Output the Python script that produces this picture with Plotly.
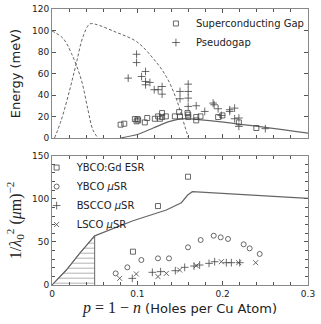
import numpy as np
import plotly.graph_objects as go

# -- top panel: energy gaps
gap_x = [0.0804, 0.0847, 0.0971, 0.0991, 0.1003, 0.101, 0.1088, 0.1116, 0.1205, 0.1244,
         0.1264, 0.129, 0.129, 0.1334, 0.144, 0.149, 0.15, 0.1588, 0.1596, 0.1596,
         0.169, 0.169, 0.174, 0.1947, 0.1997, 0.219, 0.2395]
gap_y = [12.4, 13.3, 17.6, 15.5, 17.6, 16.4, 14.5, 18.6, 17.9, 20.1,
         17.9, 23.2, 19.5, 20.1, 20.1, 24.1, 20.1, 23.2, 21.7, 19.5,
         16.4, 19.5, 20.1, 19.5, 21.0, 14.5, 9.3]

pg_x = [0.0893, 0.0991, 0.0991, 0.105, 0.1096, 0.1096, 0.1096, 0.1147, 0.1198, 0.1244,
        0.129, 0.129, 0.15, 0.15, 0.1596, 0.1596, 0.1596, 0.1596, 0.169, 0.179,
        0.1888, 0.19, 0.1947, 0.1985, 0.2083, 0.2083, 0.214, 0.214, 0.219, 0.219, 0.25]
pg_y = [55.7, 77.9, 70.2, 57.2, 61.9, 52.6, 49.5, 51.7, 44.9, 44.9,
        47.9, 40.8, 43.3, 36.5, 50.1, 43.3, 37.1, 29.4, 30.0, 24.7,
        32.5, 30.9, 27.2, 21.0, 26.3, 24.7, 27.8, 17.9, 18.6, 10.8, 8.7]

# dashed curves
af_x = [0, 0.0129, 0.0227, 0.0344, 0.0422, 0.048, 0.054]
af_y = [99.6, 92.7, 78.8, 54.0, 26.0, 7.4, 0.0]
tstar_x = [0.003, 0.0109, 0.0207, 0.0285, 0.0363, 0.0441, 0.05, 0.0754, 0.099, 0.1186,
           0.134, 0.146, 0.1557, 0.16]
tstar_y = [0.0, 16.7, 44.6, 69.5, 94.2, 106.0, 106.0, 98.3, 89.7, 74.0,
           57.0, 35.6, 10.8, 0.0]
# solid curve
sc_x = [0.0796, 0.099, 0.1186, 0.138, 0.1557, 0.3]
sc_y = [0.0, 3.0, 9.3, 15.5, 18.0, 4.6]

# -- bottom panel: superfluid density
esr_x = [0.0949, 0.1242, 0.1594]
esr_y = [38.7, 91.6, 125.6]
ybco_x = [0.0746, 0.0883, 0.1047, 0.1242, 0.1371, 0.1594, 0.1742, 0.1895, 0.1977,
          0.2063, 0.2246, 0.2316, 0.2434]
ybco_y = [13.5, 20.5, 29.0, 30.9, 30.9, 43.7, 52.2, 57.2, 55.3, 53.4, 47.2, 42.5, 36.0]
bscco_x = [0.0941, 0.1176, 0.1273, 0.1445, 0.1555, 0.1664, 0.173, 0.184, 0.1906,
           0.2043, 0.2102, 0.22]
bscco_y = [7.7, 14.7, 15.5, 16.6, 20.5, 22.0, 23.2, 25.1, 27.0, 25.9, 25.9, 25.9]
lsco_x = [0.0793, 0.0988, 0.1242, 0.134, 0.1496, 0.1691, 0.1984, 0.2188, 0.2387]
lsco_y = [7.7, 12.8, 9.7, 13.5, 17.4, 22.4, 27.0, 25.9, 25.9]

rho_x = [0, 0.0168, 0.0324, 0.0441, 0.05, 0.0949, 0.134, 0.1516, 0.159, 0.1645, 0.3]
rho_y = [0, 17.4, 36.7, 50.3, 57.0, 74.6, 87.0, 95.5, 104.4, 108.2, 100.5]

grey = '#666666'
dark = '#444444'
font = 'DejaVu Sans'

fig = go.Figure()

# top panel
dash_line = dict(color=grey, width=1, dash='3px,2px', shape='spline')
fig.add_trace(go.Scatter(x=af_x, y=af_y, mode='lines', line=dash_line,
                         showlegend=False, xaxis='x', yaxis='y'))
fig.add_trace(go.Scatter(x=tstar_x, y=tstar_y, mode='lines', line=dash_line,
                         showlegend=False, xaxis='x', yaxis='y'))
fig.add_trace(go.Scatter(x=sc_x, y=sc_y, mode='lines', line=dict(color=grey, width=1.2, shape='spline', smoothing=0.6),
                         showlegend=False, xaxis='x', yaxis='y'))
fig.add_trace(go.Scatter(x=gap_x, y=gap_y, mode='markers', name='Superconducting Gap',
                         marker=dict(symbol='square-open', size=5, color=dark, line=dict(width=0.8)),
                         xaxis='x', yaxis='y', legend='legend'))
fig.add_trace(go.Scatter(x=pg_x, y=pg_y, mode='markers', name='Pseudogap',
                         marker=dict(symbol='cross-thin-open', size=5.5, color=dark, line=dict(width=0.8, color=dark)),
                         xaxis='x', yaxis='y', legend='legend'))

# bottom panel: hatched region under the curve up to p = 0.05
rx = np.array(rho_x)
ry = np.array(rho_y)
keep = rx <= 0.05
hx = list(rx[keep]) + [rx[keep][-1]]
hy = list(ry[keep]) + [0]
fig.add_trace(go.Scatter(x=hx, y=hy, mode='lines', fill='toself',
                         fillpattern=dict(shape='-', size=5, solidity=0.2, fgcolor=grey, bgcolor='white'),
                         line=dict(color=grey, width=1), showlegend=False, xaxis='x2', yaxis='y2'))
fig.add_trace(go.Scatter(x=rho_x, y=rho_y, mode='lines', line=dict(color=grey, width=1.2),
                         showlegend=False, xaxis='x2', yaxis='y2'))
fig.add_trace(go.Scatter(x=esr_x, y=esr_y, mode='markers', name='YBCO:Gd ESR',
                         marker=dict(symbol='square-open', size=5, color=dark, line=dict(width=0.8)),
                         xaxis='x2', yaxis='y2', legend='legend2'))
fig.add_trace(go.Scatter(x=ybco_x, y=ybco_y, mode='markers', name='YBCO <i>μ</i>SR',
                         marker=dict(symbol='circle-open', size=5, color=dark, line=dict(width=0.8)),
                         xaxis='x2', yaxis='y2', legend='legend2'))
fig.add_trace(go.Scatter(x=bscco_x, y=bscco_y, mode='markers', name='BSCCO <i>μ</i>SR',
                         marker=dict(symbol='cross-thin-open', size=5.5, color=dark, line=dict(width=0.8, color=dark)),
                         xaxis='x2', yaxis='y2', legend='legend2'))
fig.add_trace(go.Scatter(x=lsco_x, y=lsco_y, mode='markers', name='LSCO <i>μ</i>SR',
                         marker=dict(symbol='x-thin-open', size=5, color=dark, line=dict(width=0.8, color=dark)),
                         xaxis='x2', yaxis='y2', legend='legend2'))

axis_common = dict(showline=True, linecolor='#888888', linewidth=1, mirror='allticks',
                   ticks='inside', ticklen=4, tickcolor='#555555', showgrid=False, zeroline=False,
                   automargin=False, tickfont=dict(size=9, family=font, color='#222222'))
minor_ticks = dict(ticks='inside', ticklen=3, tickcolor='#555555')

fig.update_layout(
    width=321, height=324,
    margin=dict(l=52, r=13, t=9, b=39),
    paper_bgcolor='white', plot_bgcolor='white',
    font=dict(family=font, size=10, color='#222222'),
    xaxis=dict(axis_common, domain=[0, 1], range=[0, 0.3], dtick=0.1, showticklabels=False,
               minor=dict(minor_ticks, dtick=0.02), anchor='y'),
    yaxis=dict(axis_common, domain=[0.5326, 1], range=[0, 120], dtick=20, anchor='x',
               title=dict(text='Energy (meV)', font=dict(size=13, family=font), standoff=8)),
    xaxis2=dict(axis_common, domain=[0, 1], range=[0, 0.3], anchor='y2',
                tickvals=[0, 0.1, 0.2, 0.3], ticktext=['0', '0.1', '0.2', '0.3'],
                minor=dict(minor_ticks, dtick=0.02),
                title=dict(text='<span style="font-family:Liberation Serif;font-size:16px"><i>p</i> = 1 − <i>n</i></span> (Holes per Cu Atom)',
                           font=dict(size=13, family=font), standoff=2)),
    yaxis2=dict(axis_common, domain=[0, 0.4685], range=[0, 150], dtick=50, anchor='x2',
                minor=dict(minor_ticks, dtick=10),
                title=dict(text='1/<i>λ</i><sub>0</sub><sup>2</sup> (<i>μ</i>m)<sup>−2</sup>',
                           font=dict(size=16, family='Liberation Serif'), standoff=6)),
    legend=dict(x=0.406, y=1.0, xanchor='left', yanchor='top', bgcolor='rgba(0,0,0,0)',
                font=dict(size=10, family=font), itemwidth=30, tracegroupgap=0),
    legend2=dict(x=-0.06, y=0.478, xanchor='left', yanchor='top', bgcolor='rgba(0,0,0,0)',
                 font=dict(size=10, family=font), itemwidth=30, tracegroupgap=0),
)

# the page body has a default 8px margin; drop it so the chart sits at the corner
fig.write_html("out.html", config={'displayModeBar': False},
               post_script="document.body.style.margin='0';")
